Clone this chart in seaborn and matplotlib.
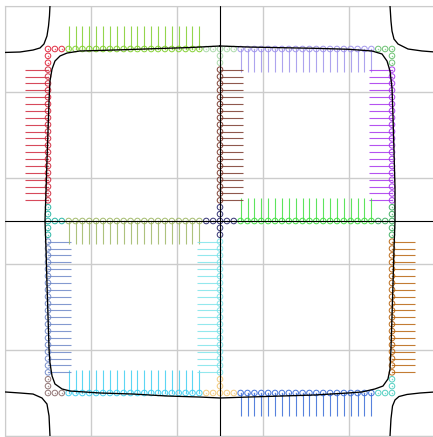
import numpy as np
import pandas as pd
import matplotlib
matplotlib.use("Agg")
import matplotlib.pyplot as plt
from matplotlib.collections import LineCollection
import seaborn as sns

# ---- data ----
# sample positions along one half-edge (regular 0.08 spacing)
half_neg = [-2.0, -1.92, -1.84, -1.76, -1.68, -1.6, -1.52, -1.44, -1.36, -1.28,
            -1.2, -1.12, -1.04, -0.96, -0.88, -0.8, -0.72, -0.64, -0.56, -0.48,
            -0.4, -0.32, -0.24, -0.16, -0.08, 0.0]
half_pos = [-v for v in half_neg[::-1]]

# edge segments: (name, orientation, fixed coord, side, normal, color)
seg_names = ["top_left", "top_right", "right_upper", "right_lower",
             "bottom_right", "bottom_left", "left_lower", "left_upper",
             "mid_left", "mid_right", "mid_upper", "mid_lower"]
seg_orient = ["h", "h", "v", "v", "h", "h", "v", "v", "h", "h", "v", "v"]
seg_fixed = [2.0, 2.0, 2.0, 2.0, -2.0, -2.0, -2.0, -2.0, 0.0, 0.0, 0.0, 0.0]
seg_side = ["neg", "pos", "pos", "neg", "pos", "neg", "neg", "pos",
            "neg", "pos", "pos", "neg"]
seg_normal = [(0, 1), (0, -1), (-1, 0), (1, 0), (0, -1), (0, 1), (1, 0), (-1, 0),
              (0, -1), (0, 1), (1, 0), (-1, 0)]
seg_colors = ["#80cf2c", "#9f94ec", "#a835ee", "#b9650f", "#3a6cd8", "#3fcff2",
              "#6f88c8", "#d02a3e", "#9fb866", "#40e040", "#7b3b2e", "#80e4ea"]
vec_len = 0.265

# node clusters at the square's nodes
node_x = [-2.0, 0.0, 2.0, 2.0, 2.0, 0.0, -2.0, -2.0, 0.0]
node_y = [2.0, 2.0, 2.0, 0.0, -2.0, -2.0, -2.0, 0.0, 0.0]
node_colors = ["#e0243a", "#a8d8a8", "#66bf6c", "#3fb062", "#4ccdbf",
               "#f2c878", "#8c6e6e", "#22b4a2", "#2a2a6e"]
arm_offsets = [0.08, 0.16]

# black contour curves
inner_x = [0.0, 0.326, 0.721, 1.105, 1.488, 1.767, 1.884, 1.942, 1.977, 2.0,
           2.012, 2.023, 2.035, 2.035, 2.023, 2.012, 2.0, 1.988, 1.977, 1.953,
           1.895, 1.802, 1.651, 1.488, 1.105, 0.721, 0.326, 0.0, -0.233, -0.616,
           -1.012, -1.395, -1.744, -1.837, -1.919, -1.953, -1.977, -1.988, -2.0,
           -2.012, -2.023, -2.035, -2.023, -2.012, -2.0, -1.988, -1.977, -1.953,
           -1.919, -1.86, -1.779, -1.628, -1.395, -1.047, -0.698, -0.349, 0.0]
inner_y = [2.035, 2.023, 2.015, 2.008, 1.997, 1.977, 1.942, 1.86, 1.744, 1.547,
           1.198, 0.814, 0.384, 0.0, -0.326, -0.721, -1.105, -1.488, -1.721, -1.837,
           -1.919, -1.953, -1.988, -2.0, -2.023, -2.035, -2.047, -2.058, -2.047, -2.035,
           -2.012, -2.0, -1.977, -1.953, -1.895, -1.802, -1.651, -1.488, -1.105,
           -0.721, -0.326, 0.0, 0.349, 0.698, 1.047, 1.395, 1.628, 1.767,
           1.86, 1.919, 1.953, 1.977, 1.983, 1.994, 2.006, 2.017, 2.035]
tl_x = [-2.5, -2.326, -2.174, -2.093, -2.047, -2.012, -1.994, -1.983, -1.977]
tl_y = [1.96, 1.965, 1.988, 2.012, 2.058, 2.151, 2.267, 2.384, 2.5]
tr_x = [1.977, 1.988, 2.0, 2.023, 2.07, 2.186, 2.349, 2.5]
tr_y = [2.5, 2.326, 2.209, 2.116, 2.058, 2.0, 1.977, 1.965]
br_x = [1.977, 1.988, 2.006, 2.035, 2.081, 2.174, 2.326, 2.5]
br_y = [-2.5, -2.302, -2.151, -2.081, -2.041, -2.017, -2.0, -1.988]
bl_x = [-2.5, -2.326, -2.174, -2.07, -2.012, -1.988, -1.977]
bl_y = [-1.988, -2.0, -2.012, -2.058, -2.128, -2.267, -2.5]
axis_line_x = [-2.5, 2.5]
axis_line_y = [0.0, 0.0]

grid_ticks = [-2.5, -1.5, -0.5, 0.5, 1.5, 2.5]
lims = (-2.5, 2.5)

# ---- figure ----
sns.set_style("whitegrid")
W, H = 433, 437
fig = plt.figure(figsize=(W / 100, H / 100), dpi=100)
ax = fig.add_axes([5 / W, 1 / H, 430 / W, 430 / H])
ax.set_xlim(*lims)
ax.set_ylim(*lims)
ax.set_xticks(grid_ticks)
ax.set_yticks(grid_ticks)
ax.set_xticklabels([])
ax.set_yticklabels([])
ax.tick_params(length=0)
ax.grid(True, color="#cccccc", linewidth=1.0)
for s in ax.spines.values():
    s.set_color("#cccccc")

mk = dict(marker="o", s=16, facecolor="none", linewidth=0.75, alpha=0.9,
          zorder=3, legend=False)

# segments: vectors + points
for name, ori, fix, side, nrm, col in zip(seg_names, seg_orient, seg_fixed,
                                          seg_side, seg_normal, seg_colors):
    vals = (half_neg if side == "neg" else half_pos)[3:23]
    if ori == "h":
        xs = np.array(vals); ys = np.full(len(vals), fix)
    else:
        ys = np.array(vals); xs = np.full(len(vals), fix)
    segs = [[(x, y), (x + nrm[0] * vec_len, y + nrm[1] * vec_len)] for x, y in zip(xs, ys)]
    ax.add_collection(LineCollection(segs, colors=col, linewidths=0.8, alpha=0.85, zorder=2))
    sns.scatterplot(x=xs, y=ys, ax=ax, edgecolor=col, **mk)
    ax.scatter(xs, ys, s=1.2, color=col, alpha=0.7, zorder=3, linewidths=0)

# node clusters
for nx, ny, col in zip(node_x, node_y, node_colors):
    px, py = [nx], [ny]
    for d in arm_offsets:
        for dx, dy in [(d, 0), (-d, 0), (0, d), (0, -d)]:
            if abs(nx + dx) <= 2.0 and abs(ny + dy) <= 2.0:
                px.append(nx + dx); py.append(ny + dy)
    sns.scatterplot(x=px, y=py, ax=ax, edgecolor=col, **mk)
    ax.scatter(px, py, s=1.2, color=col, alpha=0.7, zorder=3, linewidths=0)

# black curves
curve_kw = dict(color="black", linewidth=0.95, zorder=4)
ax.plot(inner_x, inner_y, **curve_kw)
ax.plot(tl_x, tl_y, **curve_kw)
ax.plot(tr_x, tr_y, **curve_kw)
ax.plot(br_x, br_y, **curve_kw)
ax.plot(bl_x, bl_y, **curve_kw)
ax.plot(axis_line_x, axis_line_y, color="black", linewidth=0.8, zorder=4)
ax.plot(axis_line_y, axis_line_x, color="black", linewidth=0.8, zorder=4)

fig.savefig("out.png", dpi=100)
